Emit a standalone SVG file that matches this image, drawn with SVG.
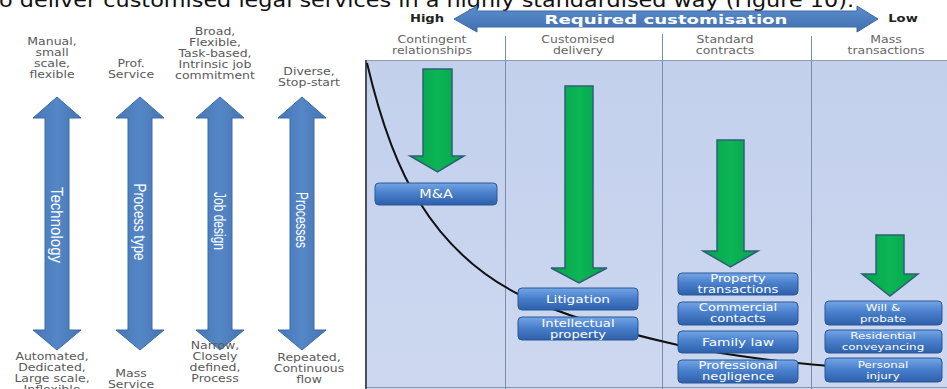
<svg xmlns="http://www.w3.org/2000/svg" xmlns:xlink="http://www.w3.org/1999/xlink" width="947" height="389" viewBox="0 0 947 389">
  <style>
    .sent { font-family: "DejaVu Sans", Verdana, sans-serif; font-size: 20px; fill: #111; }
    .lbl { font-family: "DejaVu Sans", Verdana, sans-serif; font-size: 10px; fill: #5a5a5a; text-anchor: middle; }
    .hdr { font-family: "DejaVu Sans", Verdana, sans-serif; font-size: 10px; fill: #666; text-anchor: middle; }
    .end { font-family: "DejaVu Sans", Verdana, sans-serif; font-size: 10.5px; font-weight: bold; fill: #222; text-anchor: middle; }
    .axis { font-family: "Liberation Sans", Arial, sans-serif; font-size: 17px; fill: #fff; text-anchor: middle; }
    .scale { font-family: "DejaVu Sans", Verdana, sans-serif; font-size: 13px; font-weight: bold; fill: #fff; text-anchor: middle; }
    .bx { fill: url(#boxFill); stroke: #2b5797; stroke-width: 1; }
    .bt { font-family: "DejaVu Sans", Verdana, sans-serif; fill: #fff; text-anchor: middle; }
    .dbl { fill: url(#blueArrow); stroke: #3d6ca6; stroke-width: 1; }
    .down { fill: url(#greenFill); stroke: #2f5d78; stroke-width: 1.5; }
    .div { stroke: #7a8eac; stroke-width: 1; }
  </style>
  <defs>
    <linearGradient id="blueArrow" x1="0" y1="0" x2="1" y2="0">
      <stop offset="0" stop-color="#4577b8"/>
      <stop offset="0.5" stop-color="#5586c6"/>
      <stop offset="1" stop-color="#4374b4"/>
    </linearGradient>
    <linearGradient id="blueArrowH" x1="0" y1="0" x2="0" y2="1">
      <stop offset="0" stop-color="#5b8dcb"/>
      <stop offset="1" stop-color="#416fb0"/>
    </linearGradient>
    <linearGradient id="greenFill" x1="0" y1="0" x2="1" y2="0">
      <stop offset="0" stop-color="#03a44a"/>
      <stop offset="0.5" stop-color="#0cb556"/>
      <stop offset="1" stop-color="#03a44a"/>
    </linearGradient>
    <linearGradient id="boxFill" x1="0" y1="0" x2="0" y2="1">
      <stop offset="0" stop-color="#74a6e6"/>
      <stop offset="0.45" stop-color="#4a80cc"/>
      <stop offset="1" stop-color="#2d60aa"/>
    </linearGradient>
    <linearGradient id="panelFill" x1="0" y1="0" x2="0" y2="1">
      <stop offset="0" stop-color="#c3d0ec"/>
      <stop offset="1" stop-color="#cdd8f0"/>
    </linearGradient>
    <path id="dblArrow" d="M0,97 L24,118 L12,118 L12,330 L24,330 L0,350 L-24,330 L-12,330 L-12,118 L-24,118 Z"/>
  </defs>

  <rect width="947" height="389" fill="#fff"/>

  <!-- running sentence above the figure -->
  <text class="sent" x="-1" y="7" textLength="855" lengthAdjust="spacingAndGlyphs">o deliver customised legal services in a highly standardised way (Figure 10).</text>

  <!-- left panel: four dimension axes -->
  <g id="axis-technology">
    <use xlink:href="#dblArrow" href="#dblArrow" x="57" class="dbl"/>
    <text class="axis" transform="translate(57 225) rotate(90)" y="6" textLength="76" lengthAdjust="spacingAndGlyphs">Technology</text>
    <g transform="translate(52 0) scale(1.25 1)">
      <text class="lbl" x="0" y="45">Manual,</text>
      <text class="lbl" x="0" y="56">small</text>
      <text class="lbl" x="0" y="67">scale,</text>
      <text class="lbl" x="0" y="78">flexible</text>
      <text class="lbl" x="0" y="360">Automated,</text>
      <text class="lbl" x="0" y="371">Dedicated,</text>
      <text class="lbl" x="0" y="382">Large scale,</text>
      <text class="lbl" x="0" y="393">Inflexible</text>
    </g>
  </g>
  <g id="axis-process-type">
    <use xlink:href="#dblArrow" href="#dblArrow" x="140" class="dbl"/>
    <text class="axis" transform="translate(140 222) rotate(90)" y="6" textLength="77" lengthAdjust="spacingAndGlyphs">Process type</text>
    <g transform="translate(131 0) scale(1.25 1)">
      <text class="lbl" x="0" y="67">Prof.</text>
      <text class="lbl" x="0" y="78">Service</text>
      <text class="lbl" x="0" y="377">Mass</text>
      <text class="lbl" x="0" y="388">Service</text>
    </g>
  </g>
  <g id="axis-job-design">
    <use xlink:href="#dblArrow" href="#dblArrow" x="220" class="dbl"/>
    <text class="axis" transform="translate(220 221) rotate(90)" y="6" textLength="58" lengthAdjust="spacingAndGlyphs">Job design</text>
    <g transform="translate(215 0) scale(1.25 1)">
      <text class="lbl" x="0" y="35">Broad,</text>
      <text class="lbl" x="0" y="46">Flexible,</text>
      <text class="lbl" x="0" y="57">Task-based,</text>
      <text class="lbl" x="0" y="68">Intrinsic job</text>
      <text class="lbl" x="0" y="79">commitment</text>
      <text class="lbl" x="0" y="349">Narrow,</text>
      <text class="lbl" x="0" y="360">Closely</text>
      <text class="lbl" x="0" y="371">defined,</text>
      <text class="lbl" x="0" y="382">Process</text>
    </g>
  </g>
  <g id="axis-processes">
    <use xlink:href="#dblArrow" href="#dblArrow" x="302" class="dbl"/>
    <text class="axis" transform="translate(302 220) rotate(90)" y="6" textLength="56" lengthAdjust="spacingAndGlyphs">Processes</text>
    <g transform="translate(309 0) scale(1.25 1)">
      <text class="lbl" x="0" y="75">Diverse,</text>
      <text class="lbl" x="0" y="86">Stop-start</text>
      <text class="lbl" x="0" y="361">Repeated,</text>
      <text class="lbl" x="0" y="372">Continuous</text>
      <text class="lbl" x="0" y="383">flow</text>
    </g>
  </g>

  <!-- right panel: customisation scale -->
  <g id="scale-arrow">
    <path d="M454,19 L477,6 L477,11 L857,11 L857,6 L878,19 L857,32 L857,27 L477,27 L477,32 Z" fill="url(#blueArrowH)" stroke="#3d6ca6" stroke-width="1"/>
    <text class="scale" x="666" y="24" textLength="243" lengthAdjust="spacingAndGlyphs">Required customisation</text>
    <text class="end" transform="translate(427 22) scale(1.25 1)">High</text>
    <text class="end" transform="translate(903 22) scale(1.25 1)">Low</text>
  </g>

  <!-- panel background and column rules -->
  <g id="panel">
    <rect x="366" y="60" width="581" height="329" fill="url(#panelFill)"/>
    <line x1="366" y1="60.5" x2="947" y2="60.5" stroke="#8d9cb6" stroke-width="1.2"/>
    <line x1="366" y1="387.5" x2="947" y2="387.5" stroke="#8a96a8" stroke-width="1.2"/>
    <line x1="366" y1="60" x2="366" y2="389" stroke="#4a4f5a" stroke-width="2"/>
    <line class="div" x1="505.5" y1="36" x2="505.5" y2="389"/>
    <line class="div" x1="662.5" y1="34" x2="662.5" y2="389"/>
    <line class="div" x1="811.5" y1="36" x2="811.5" y2="389"/>
  </g>

  <!-- column headings -->
  <g id="col-contingent" transform="translate(432 0) scale(1.25 1)">
    <text class="hdr" x="0" y="43">Contingent</text>
    <text class="hdr" x="0" y="54">relationships</text>
  </g>
  <g id="col-customised" transform="translate(578 0) scale(1.25 1)">
    <text class="hdr" x="0" y="43">Customised</text>
    <text class="hdr" x="0" y="54">delivery</text>
  </g>
  <g id="col-standard" transform="translate(725 0) scale(1.25 1)">
    <text class="hdr" x="0" y="43">Standard</text>
    <text class="hdr" x="0" y="54">contracts</text>
  </g>
  <g id="col-mass" transform="translate(886 0) scale(1.25 1)">
    <text class="hdr" x="0" y="43">Mass</text>
    <text class="hdr" x="0" y="54">transactions</text>
  </g>

  <!-- downward pressure arrows -->
  <g id="push-contingent"><path class="down" d="M423,69 H452 V156 H464 L437.5,172 L410,156 H423 Z"/></g>
  <g id="push-customised"><path class="down" d="M565,86 H593 V268 H607 L579,283 L551,268 H565 Z"/></g>
  <g id="push-standard"><path class="down" d="M717,140 H744 V251 H758 L730.5,267 L703,251 H717 Z"/></g>
  <g id="push-mass"><path class="down" d="M876,235 H904 V274 H918 L890,296 L862,274 H876 Z"/></g>

  <!-- customisation curve running behind the service boxes -->
  <g id="connectors">
    <path d="M367,63 C378,110 395,165 420,203 C440,235 470,270 520,295 C560,314 620,332 678,345 C720,354 770,361 830,366" fill="none" stroke="#111" stroke-width="2"/>
  </g>

  <!-- service boxes -->
  <g id="box-ma">
    <rect class="bx" x="375" y="183" width="122" height="22" rx="4"/>
    <text class="bt" font-size="11.5" transform="translate(436 198) scale(1.25 1)">M&amp;A</text>
  </g>
  <g id="box-litigation">
    <rect class="bx" x="518" y="288" width="120" height="22" rx="4"/>
    <text class="bt" font-size="11" transform="translate(578 303) scale(1.25 1)">Litigation</text>
  </g>
  <g id="box-ip">
    <rect class="bx" x="518" y="317" width="120" height="23" rx="4"/>
    <text class="bt" font-size="10.5" transform="translate(578 327) scale(1.25 1)">Intellectual</text>
    <text class="bt" font-size="10.5" transform="translate(578 338) scale(1.25 1)">property</text>
  </g>
  <g id="box-property">
    <rect class="bx" x="678" y="273" width="120" height="22" rx="4"/>
    <text class="bt" font-size="10.5" transform="translate(738 282) scale(1.25 1)">Property</text>
    <text class="bt" font-size="10.5" transform="translate(738 293) scale(1.25 1)">transactions</text>
  </g>
  <g id="box-commercial">
    <rect class="bx" x="678" y="302" width="120" height="23" rx="4"/>
    <text class="bt" font-size="10.5" transform="translate(738 311) scale(1.25 1)">Commercial</text>
    <text class="bt" font-size="10.5" transform="translate(738 322) scale(1.25 1)">contacts</text>
  </g>
  <g id="box-family">
    <rect class="bx" x="678" y="331" width="120" height="22" rx="4"/>
    <text class="bt" font-size="11" transform="translate(738 346) scale(1.25 1)">Family law</text>
  </g>
  <g id="box-negligence">
    <rect class="bx" x="678" y="360" width="120" height="23" rx="4"/>
    <text class="bt" font-size="10.5" transform="translate(738 369) scale(1.25 1)">Professional</text>
    <text class="bt" font-size="10.5" transform="translate(738 380) scale(1.25 1)">negligence</text>
  </g>
  <g id="box-will">
    <rect class="bx" x="825" y="301" width="117" height="24" rx="4"/>
    <text class="bt" font-size="9.5" transform="translate(883 311) scale(1.25 1)">Will &amp;</text>
    <text class="bt" font-size="9.5" transform="translate(883 322) scale(1.25 1)">probate</text>
  </g>
  <g id="box-residential">
    <rect class="bx" x="825" y="330" width="117" height="23" rx="4"/>
    <text class="bt" font-size="9.5" transform="translate(883 339) scale(1.25 1)">Residential</text>
    <text class="bt" font-size="9.5" transform="translate(883 350) scale(1.25 1)">conveyancing</text>
  </g>
  <g id="box-injury">
    <rect class="bx" x="825" y="358" width="117" height="24" rx="4"/>
    <text class="bt" font-size="9.5" transform="translate(883 368) scale(1.25 1)">Personal</text>
    <text class="bt" font-size="9.5" transform="translate(883 379) scale(1.25 1)">injury</text>
  </g>
</svg>
